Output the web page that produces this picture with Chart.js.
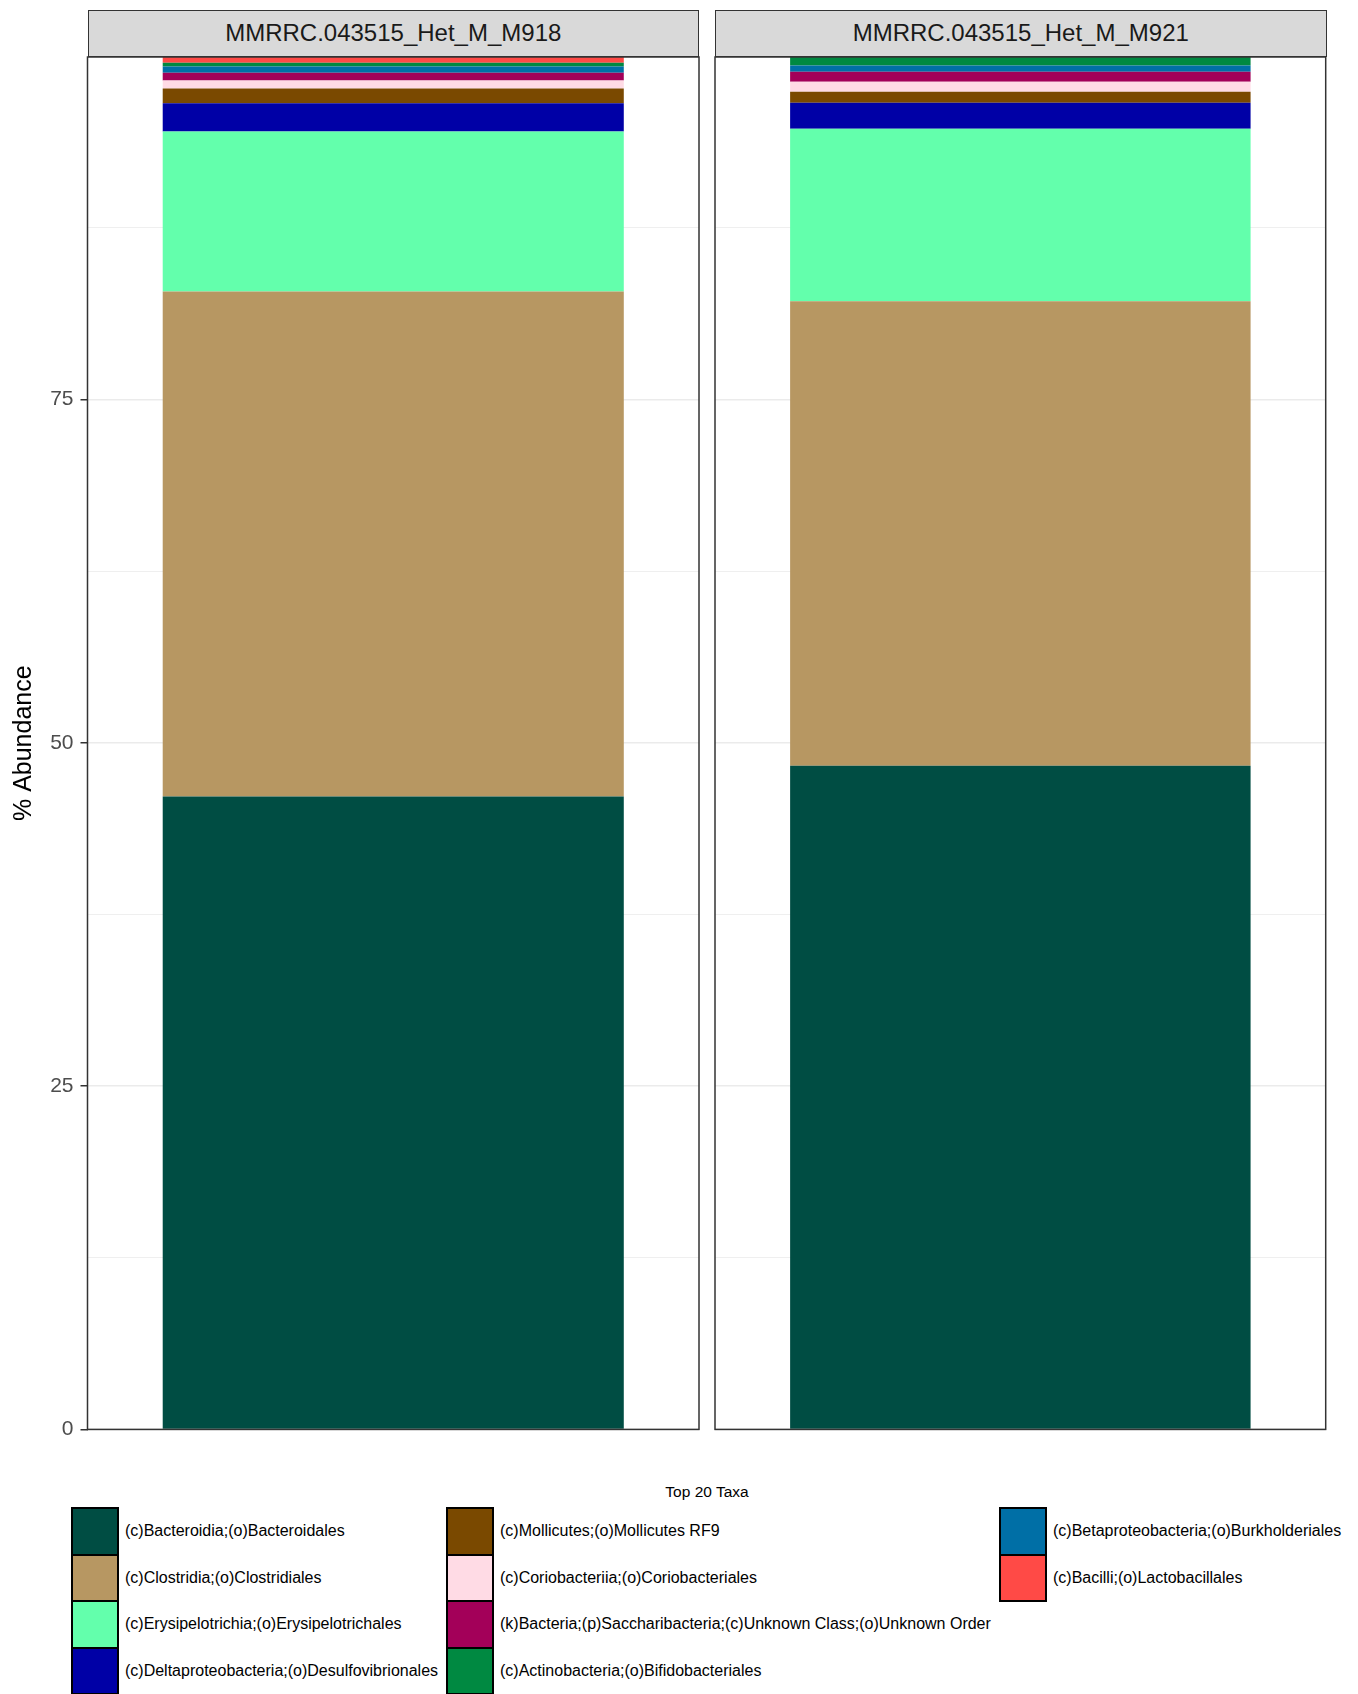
<!DOCTYPE html>
<html lang="en">
<head>
  <meta charset="UTF-8">
  <title>Top 20 Taxa</title>
  <script src="https://cdn.jsdelivr.net/npm/chart.js"></script>
  <style>
    body { margin: 0; background: #fff; font-family: "Liberation Sans", Arial, sans-serif; width: 1358px; height: 1694px; overflow: hidden; position: relative; }
    canvas { position: absolute; top: 0; }
    #panel1 { left: 0; }
    #panel2 { left: 700px; }
    .strip { position: absolute; top: 9.5px; height: 47.5px; box-sizing: border-box; background: #d9d9d9; border: 1.5px solid #333; color: #1a1a1a; font-size: 24px; text-align: center; line-height: 44px; }
    .legend-title { position: absolute; left: 607px; width: 200px; top: 1482px; text-align: center; font-size: 15.5px; line-height: 20px; color: #000; }
    .key { position: absolute; width: 47.5px; height: 48.5px; box-sizing: border-box; border: 2.5px solid #000; }
    .key-label { position: absolute; font-size: 16px; line-height: 20px; color: #000; white-space: nowrap; }
  </style>
</head>
<body>
  <canvas id="panel1" width="700" height="1440"></canvas>
  <canvas id="panel2" width="658" height="1440"></canvas>
  <div id="strips"></div>
  <div id="legend"></div>
  <script>
    // facet labels
    const samples = ['MMRRC.043515_Het_M_M918', 'MMRRC.043515_Het_M_M921'];

    // taxa in stacking order (bottom first)
    const taxa = [
      '(c)Bacteroidia;(o)Bacteroidales',
      '(c)Clostridia;(o)Clostridiales',
      '(c)Erysipelotrichia;(o)Erysipelotrichales',
      '(c)Deltaproteobacteria;(o)Desulfovibrionales',
      '(c)Mollicutes;(o)Mollicutes RF9',
      '(c)Coriobacteriia;(o)Coriobacteriales',
      '(k)Bacteria;(p)Saccharibacteria;(c)Unknown Class;(o)Unknown Order',
      '(c)Betaproteobacteria;(o)Burkholderiales',
      '(c)Actinobacteria;(o)Bifidobacteriales',
      '(c)Bacilli;(o)Lactobacillales'
    ];
    const taxaColors = ['#004D43', '#B79762', '#63FFAC', '#0000A6', '#7A4900',
                        '#FFDBE5', '#A30059', '#006FA6', '#008941', '#FF4A46'];

    // % abundance per sample, same order as taxa
    const abundM918 = [46.08, 36.78, 11.64, 2.06, 1.07, 0.58, 0.58, 0.44, 0.29, 0.41];
    const abundM921 = [48.32, 33.83, 12.56, 1.89, 0.80, 0.73, 0.73, 0.46, 0.61, 0.00];

    // legend reads column by column
    const legendOrder = [0, 1, 2, 3, 4, 5, 6, 8, 7, 9];

    const yGrid = [0, 12.5, 25, 37.5, 50, 62.5, 75, 87.5];
    const yLabels = [0, 25, 50, 75];

    const sum = a => a.reduce((s, v) => s + v, 0);
    const yMax = Math.max(sum(abundM918), sum(abundM921));

    const panelBorder = {
      id: 'panelBorder',
      afterDraw(chart) {
        const a = chart.chartArea, ctx = chart.ctx;
        ctx.save();
        ctx.strokeStyle = '#333';
        ctx.lineWidth = 1.5;
        ctx.strokeRect(a.left, a.top, a.right - a.left, a.bottom - a.top);
        ctx.restore();
      }
    };

    function makePanel(id, values, withAxis, padding) {
      const isMajor = v => yLabels.includes(v);
      return new Chart(document.getElementById(id), {
        type: 'bar',
        data: {
          labels: [''],
          datasets: taxa.map((t, i) => ({
            label: t,
            data: [values[i]],
            backgroundColor: taxaColors[i],
            borderWidth: 0,
            categoryPercentage: 1,
            barPercentage: 0.754
          }))
        },
        options: {
          responsive: false,
          animation: false,
          layout: { padding: padding },
          plugins: { legend: { display: false }, tooltip: { enabled: false } },
          scales: {
            x: { stacked: true, display: false },
            y: {
              stacked: true,
              min: 0,
              max: yMax,
              afterBuildTicks: s => { s.ticks = yGrid.map(v => ({ value: v })); },
              afterFit: s => {
                s.width = withAxis ? 87.5 : 0;
                s.paddingTop = 0;
                s.paddingBottom = 0;
              },
              border: { display: false },
              grid: {
                color: '#ebebeb',
                lineWidth: c => isMajor(c.tick.value) ? 1.5 : 0.8,
                drawTicks: withAxis,
                tickLength: 7,
                tickWidth: 1.5,
                tickColor: c => isMajor(c.tick.value) ? '#333' : 'rgba(0,0,0,0)'
              },
              ticks: {
                display: withAxis,
                padding: 7,
                color: '#4d4d4d',
                font: { family: 'Liberation Sans', size: 21 },
                callback: v => isMajor(v) ? String(v) : ''
              },
              title: {
                display: withAxis,
                text: '% Abundance',
                color: '#000',
                font: { family: 'Liberation Sans', size: 25 },
                padding: { top: 9, bottom: 0 }
              }
            }
          }
        },
        plugins: [panelBorder]
      });
    }

    makePanel('panel1', abundM918, true, { top: 57, bottom: 10.6, left: 0, right: 1 });
    makePanel('panel2', abundM921, false, { top: 57, bottom: 10.6, left: 15, right: 32.3 });

    // facet strips
    const stripX = [87.5, 715];
    samples.forEach((s, i) => {
      const d = document.createElement('div');
      d.className = 'strip';
      d.style.left = stripX[i] + 'px';
      d.style.width = '611.5px';
      d.textContent = s;
      document.getElementById('strips').appendChild(d);
    });

    // legend
    const legend = document.getElementById('legend');
    const lt = document.createElement('div');
    lt.className = 'legend-title';
    lt.textContent = 'Top 20 Taxa';
    legend.appendChild(lt);
    const keyX = [71, 446, 999];
    const textX = [125, 500, 1053];
    legendOrder.forEach((ti, n) => {
      const col = Math.floor(n / 4), row = n % 4;
      const top = 1507 + row * 46.5;
      const k = document.createElement('div');
      k.className = 'key';
      k.style.left = keyX[col] + 'px';
      k.style.top = top + 'px';
      k.style.background = taxaColors[ti];
      legend.appendChild(k);
      const l = document.createElement('div');
      l.className = 'key-label';
      l.style.left = textX[col] + 'px';
      l.style.top = (top + 24 - 10) + 'px';
      l.textContent = taxa[ti];
      legend.appendChild(l);
    });
  </script>
</body>
</html>
